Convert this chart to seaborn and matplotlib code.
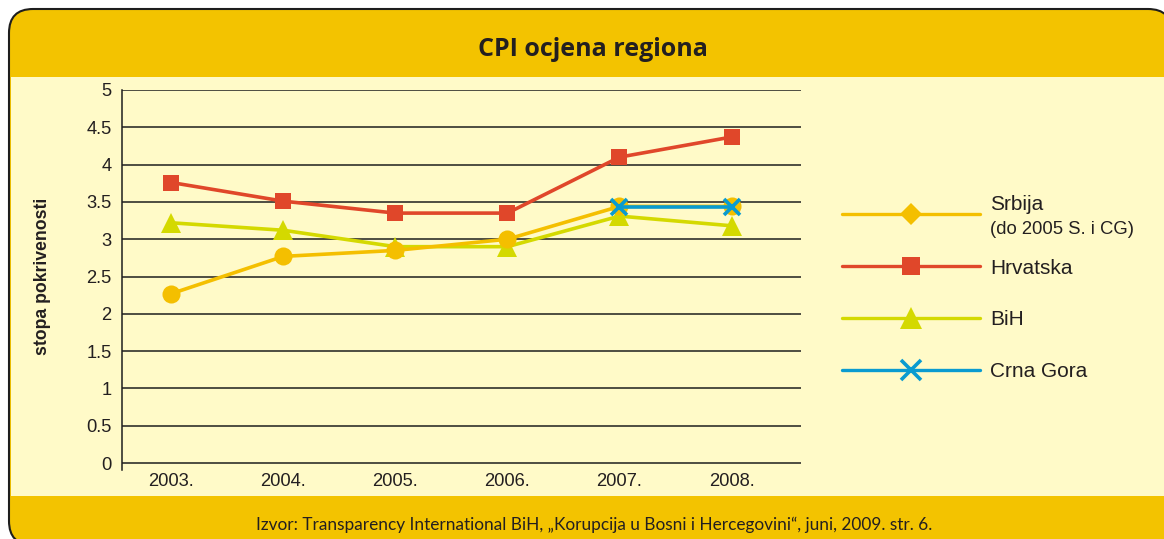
import numpy as np
import pandas as pd
import matplotlib
matplotlib.use("Agg")
import matplotlib.pyplot as plt
import seaborn as sns
from matplotlib.lines import Line2D
from matplotlib.patches import FancyBboxPatch, Rectangle
from matplotlib.transforms import IdentityTransform, Affine2D

# data
years = ["2003.", "2004.", "2005.", "2006.", "2007.", "2008."]
srbija = [2.27, 2.77, 2.85, 3.0, 3.44, 3.44]
hrvatska = [3.76, 3.51, 3.35, 3.35, 4.1, 4.37]
bih = [3.22, 3.12, 2.9, 2.9, 3.31, 3.18]
crna_gora = [np.nan, np.nan, np.nan, np.nan, 3.43, 3.43]
y_ticks = [0, 0.5, 1, 1.5, 2, 2.5, 3, 3.5, 4, 4.5, 5]

HEADER = "#F3C300"
BODY = "#FFFAC8"
INK = "#231F20"
colors = {"Srbija": "#F4BF00", "Hrvatska": "#E0472A", "BiH": "#D4D900", "Crna Gora": "#0A9BD0"}

df = pd.DataFrame({
    "x": list(range(len(years))) * 4,
    "cpi": srbija + hrvatska + bih + crna_gora,
    "zemlja": ["Srbija"] * 6 + ["Hrvatska"] * 6 + ["BiH"] * 6 + ["Crna Gora"] * 6,
})

sns.set_theme(style="white")
plt.rcParams["font.family"] = ["Liberation Sans", "DejaVu Sans"]

W, H = 1164, 539
fig = plt.figure(figsize=(W / 100, H / 100), dpi=100, facecolor="white")
px = IdentityTransform()

# rounded panel: yellow header/footer, light body (runs off the right and bottom edge)
outer = FancyBboxPatch((9, -6), 1163, H - 9 + 6, boxstyle="round,pad=0,rounding_size=24",
                       facecolor=HEADER, edgecolor="#1E1E1E", lw=1.5, transform=px, zorder=-10)
body = Rectangle((10.8, H - 496), W, 496 - 77, facecolor=BODY, edgecolor="none",
                 transform=px, zorder=-9)
for p in (outer, body):
    p.set_in_layout(False)
    fig.add_artist(p)

ax = fig.add_axes([122 / W, (H - 470.5) / H, (801 - 122) / W, (470.5 - 90) / H])
ax.set_facecolor("none")

styles = [
    ("Hrvatska", "s", 12),
    ("BiH", "^", 15),
    ("Srbija", "o", 13),
    ("Crna Gora", "x", 11),
]
for z, (name, mk, ms) in enumerate(styles):
    sub = df[df["zemlja"] == name].dropna()
    sns.lineplot(data=sub, x="x", y="cpi", ax=ax, color=colors[name], lw=2.6,
                 marker=mk, markersize=ms, markeredgewidth=2.6 if mk == "x" else 0,
                 markeredgecolor=colors[name], zorder=3 + z, legend=False)

ax.set_xlim(-0.44, 5.62)
ax.set_ylim(-0.1, 5)
ax.set_yticks(y_ticks)
ax.set_yticklabels([f"{v:g}" for v in y_ticks])
ax.set_xticks(range(len(years)))
ax.set_xticklabels(years)
ax.tick_params(axis="y", length=0, pad=7.5, labelsize=13.2, labelcolor=INK)
ax.tick_params(axis="x", length=0, pad=1.5, labelsize=13.2, labelcolor=INK)
ax.set_xlabel("")
ax.set_ylabel("stopa pokrivenosti", fontsize=12.7, fontweight="bold", color=INK)
ax.yaxis.set_label_coords(-0.104, 0.51)
ax.yaxis.grid(True, color="#1E1E1E", lw=1.1)
ax.xaxis.grid(False)
ax.set_axisbelow(True)
for s in ("top", "right", "bottom"):
    ax.spines[s].set_visible(False)
ax.spines["left"].set_color("#1E1E1E")
ax.spines["left"].set_linewidth(1.1)

# legend (Srbija shown with a diamond, as in the original)
leg_marks = {"Srbija": ("D", 11), "Hrvatska": ("s", 13), "BiH": ("^", 15.5), "Crna Gora": ("x", 14)}
handles = []
for name in ["Srbija", "Hrvatska", "BiH", "Crna Gora"]:
    mk, ms = leg_marks[name]
    handles.append(Line2D([], [], color=colors[name], lw=2.4, marker=mk, markersize=ms,
                          markeredgewidth=2.6 if mk == "x" else 0, markeredgecolor=colors[name]))
leg = fig.legend(handles, ["Srbija", "Hrvatska", "BiH", "Crna Gora"], loc="center left",
                 bbox_to_anchor=(842, H - 294), bbox_transform=px, frameon=False,
                 fontsize=15, handlelength=6.63, handletextpad=0.48, labelspacing=1.58,
                 borderpad=0, borderaxespad=0, labelcolor=INK)
t0 = leg.get_texts()[0]
t0.set_transform(t0.get_transform() + Affine2D().translate(0, 12))
fig.text(990, H - 230, "(do 2005 S. i CG)", transform=px, fontsize=13.3, va="center", color=INK)

fig.text(593, H - 50, "CPI ocjena regiona", transform=px, ha="center", va="center",
         fontsize=18, fontweight="bold", family=["Open Sans", "DejaVu Sans"], color=INK)
fig.text(594, H - 525,
         "Izvor: Transparency International BiH, \u201eKorupcija u Bosni i Hercegovini\u201c, juni, 2009. str. 6.",
         transform=px, ha="center", va="center", fontsize=12.4, family=["Lato", "DejaVu Sans"], color=INK)

fig.savefig("out.png", dpi=100)
